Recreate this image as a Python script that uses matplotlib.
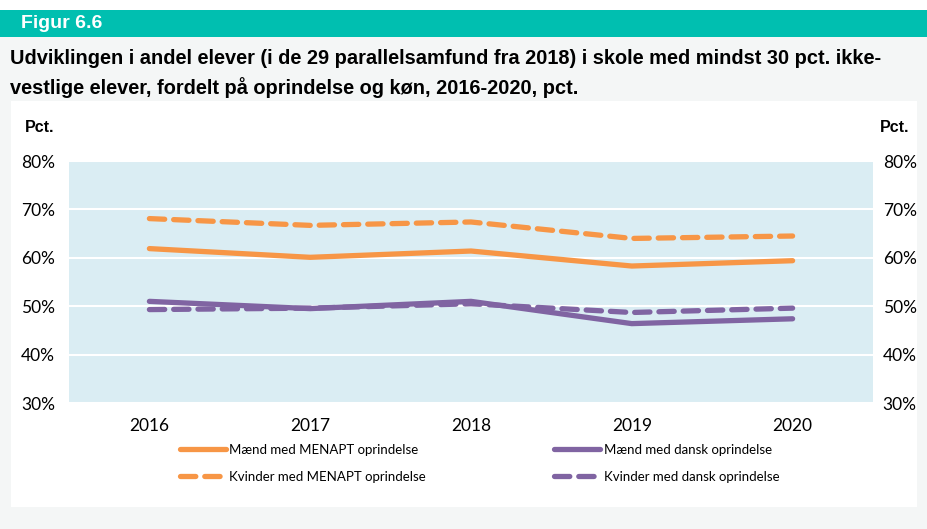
import matplotlib.pyplot as plt
from matplotlib.patches import Rectangle

# Data
years = ["2016", "2017", "2018", "2019", "2020"]
maend_menapt = [61.9, 60.1, 61.4, 58.3, 59.4]
kvinder_menapt = [68.1, 66.7, 67.4, 64.0, 64.5]
maend_dansk = [51.0, 49.5, 51.0, 46.4, 47.4]
kvinder_dansk = [49.3, 49.6, 50.5, 48.7, 49.6]
y_ticks = [30, 40, 50, 60, 70, 80]

orange = "#f79646"
purple = "#8064a2"
W, H = 927, 529

fig = plt.figure(figsize=(W / 100, H / 100), dpi=100)
fig.patch.set_facecolor("white")


def px_rect(x0, y0, x1, y1, color):
    # rektangel i pixel-koordinater (y fra toppen)
    fig.patches.append(Rectangle((x0 / W, 1 - y1 / H), (x1 - x0) / W, (y1 - y0) / H,
                                 transform=fig.transFigure, facecolor=color,
                                 edgecolor="none", zorder=-10))


px_rect(0, 37, W, H, "#f4f6f6")
px_rect(0, 10, W, 37, "#00bfb0")
px_rect(11, 101, 917, 507, "white")

fig.text(21 / W, 1 - 24 / H, "Figur 6.6", color="white", fontsize=14,
         fontweight="bold", family="Liberation Sans", va="center")
fig.text(10 / W, 1 - 59 / H,
         "Udviklingen i andel elever (i de 29 parallelsamfund fra 2018) i skole med mindst 30 pct. ikke-",
         fontsize=14.4, fontweight="bold", family="Liberation Sans", va="center")
fig.text(10 / W, 1 - 88 / H, "vestlige elever, fordelt på oprindelse og køn, 2016-2020, pct.",
         fontsize=14.4, fontweight="bold", family="Liberation Sans", va="center")
fig.text(25 / W, 1 - 128 / H, "Pct.", fontsize=11.5, fontweight="bold",
         family="Liberation Sans", va="center")
fig.text(880 / W, 1 - 128 / H, "Pct.", fontsize=11.5, fontweight="bold",
         family="Liberation Sans", va="center")

ax = fig.add_axes([69 / W, 1 - 403 / H, (873 - 69) / W, (403 - 161) / H])
ax.set_facecolor("#daedf3")
x = range(len(years))
lw = 3.8
dash = (2.9, 1.7)

ax.plot(x, maend_menapt, color=orange, lw=lw, solid_capstyle="round",
        label="Mænd med MENAPT oprindelse", zorder=3)
ax.plot(x, kvinder_menapt, color=orange, lw=lw, ls=(0, dash), dash_capstyle="round",
        label="Kvinder med MENAPT oprindelse", zorder=3)
ax.plot(x, maend_dansk, color=purple, lw=lw, solid_capstyle="round",
        label="Mænd med dansk oprindelse", zorder=3)
ax.plot(x, kvinder_dansk, color=purple, lw=lw, ls=(0, dash), dash_capstyle="round",
        label="Kvinder med dansk oprindelse", zorder=3)

ax.set_xlim(-0.5, 4.5)
ax.set_ylim(30, 80)
ax.set_xticks(list(x))
ax.set_xticklabels(years, family="Lato", fontsize=12.5)
ax.set_yticks(y_ticks)
ax.set_yticklabels([f"{t}%" for t in y_ticks], family="Lato", fontsize=12.5)
ax.grid(axis="y", color="white", lw=1.5)
ax.set_axisbelow(True)
ax.tick_params(length=0)
ax.tick_params(axis="y", pad=10)
ax.tick_params(axis="x", pad=11)
for s in ax.spines.values():
    s.set_visible(False)

ax2 = ax.twinx()
ax2.set_ylim(30, 80)
ax2.set_yticks(y_ticks)
ax2.set_yticklabels([f"{t}%" for t in y_ticks], family="Lato", fontsize=12.5)
ax2.tick_params(length=0, pad=7)
for s in ax2.spines.values():
    s.set_visible(False)

handles, labels = ax.get_legend_handles_labels()
leg = fig.legend(handles, labels, ncol=2, loc="upper left",
                 bbox_to_anchor=(168 / W, 1 - 432 / H), frameon=False,
                 prop={"family": "Lato", "size": 9.5}, handlelength=3.5,
                 handletextpad=0.25, columnspacing=9.7, labelspacing=1.15)

fig.savefig("out.png", dpi=100)
